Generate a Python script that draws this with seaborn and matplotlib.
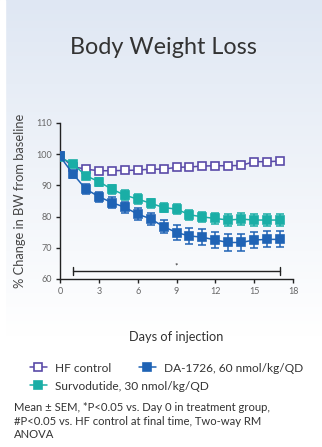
import numpy as np
import pandas as pd
import matplotlib
matplotlib.use("Agg")
import matplotlib.pyplot as plt
import seaborn as sns

days = list(range(0, 18))
hf_control = [99.5, 96.0, 95.2, 94.7, 94.7, 94.8, 94.9, 95.2, 95.2, 95.8, 95.9, 96.2, 96.3, 96.3, 96.4, 97.6, 97.6, 97.8]
hf_sem = [0.8, 0.6, 0.6, 0.6, 0.6, 0.6, 0.6, 0.6, 0.6, 0.7, 0.7, 1.0, 1.0, 0.8, 0.8, 1.0, 1.0, 1.0]
survodutide = [99.0, 96.9, 93.1, 91.2, 88.8, 86.9, 85.6, 84.3, 82.9, 82.4, 80.6, 79.9, 79.4, 78.9, 79.2, 78.9, 78.9, 78.9]
surv_sem = [0.8, 1.0, 1.2, 1.3, 1.4, 1.5, 1.5, 1.5, 1.5, 1.5, 1.6, 1.7, 1.8, 1.8, 1.8, 1.8, 1.8, 1.8]
da1726 = [99.3, 93.7, 88.8, 86.4, 84.5, 83.0, 80.8, 79.3, 76.8, 74.9, 73.8, 73.4, 72.5, 71.7, 71.7, 72.5, 72.7, 72.7]
da_sem = [0.8, 1.3, 1.5, 1.6, 1.7, 1.8, 1.9, 2.0, 2.2, 2.4, 2.5, 2.5, 2.6, 2.7, 2.7, 2.6, 2.6, 2.6]
series_names = ["HF control", "Survodutide, 30 nmol/kg/QD", "DA-1726, 60 nmol/kg/QD"]
sig_start, sig_end, sig_y = 1, 17, 62.5

colors = {"HF control": "#5a4aa8", "Survodutide, 30 nmol/kg/QD": "#1aaea6", "DA-1726, 60 nmol/kg/QD": "#1f63b5"}
vals = {"HF control": (hf_control, hf_sem), "Survodutide, 30 nmol/kg/QD": (survodutide, surv_sem),
        "DA-1726, 60 nmol/kg/QD": (da1726, da_sem)}

rows = []
for name in series_names:
    v, s = vals[name]
    for d, m, e in zip(days, v, s):
        rows.append({"day": d, "value": m, "sem": e, "group": name})
df = pd.DataFrame(rows)

sns.set_style("white")
plt.rcParams['font.family'] = ['Lato', 'DejaVu Sans']

fig = plt.figure(figsize=(3.22, 4.47), dpi=100)
# background gradient
bg = fig.add_axes([0, 0, 1, 1], zorder=-10)
grad = np.linspace(0, 1, 256).reshape(-1, 1)
top = np.array([0.875, 0.906, 0.953])
bot = np.array([1.0, 1.0, 1.0])
t = np.clip(grad / 0.75, 0, 1)
img = top * (1 - t) + bot * t
img = img.reshape(256, 1, 3)
bg.imshow(img, aspect='auto', extent=[0, 1, 0, 1], origin='upper')
bg.axvspan(0, 5/322, color='white')
bg.set_xlim(0, 1); bg.set_ylim(0, 1)
bg.axis('off')

ax = fig.add_axes([60/322, 1 - 279/447, 233/322, 156/447])
ax.patch.set_alpha(0)

for name in series_names:
    sub = df[df.group == name]
    c = colors[name]
    ax.errorbar(sub["day"], sub["value"], yerr=sub["sem"], fmt='none', ecolor=c,
                elinewidth=1.1, capsize=2.8, capthick=1.1, zorder=2)
    sns.lineplot(data=sub, x="day", y="value", ax=ax, color=c, linewidth=1.1,
                 marker='s', markersize=5.4,
                 markerfacecolor='white' if name == "HF control" else c,
                 markeredgecolor=c, markeredgewidth=1.2, label=name, zorder=3)
h, l = ax.get_legend_handles_labels()
handles = dict(zip(l, h))
if ax.get_legend():
    ax.get_legend().remove()

ax.set_xlim(0, 18)
ax.set_ylim(60, 110)
ax.set_xticks(range(0, 19, 3))
ax.set_yticks(range(60, 111, 10))
for s in ["top", "right"]:
    ax.spines[s].set_visible(False)
for s in ["left", "bottom"]:
    ax.spines[s].set_color("#222222")
    ax.spines[s].set_linewidth(1.0)
ax.tick_params(axis='both', direction='out', length=3, width=1, color="#222222",
               labelsize=6.5, labelcolor="#666666", pad=3, bottom=True, left=True)
ax.set_xlabel("")
ax.set_ylabel("% Change in BW from baseline", fontsize=9.3, color="#444444", labelpad=7)

# significance bar
ax.plot([sig_start, sig_end], [sig_y, sig_y], color="#222222", lw=1)
ax.plot([sig_start, sig_start], [sig_y - 1.2, sig_y + 1.2], color="#222222", lw=1)
ax.plot([sig_end, sig_end], [sig_y - 1.2, sig_y + 1.2], color="#222222", lw=1)
ax.text((sig_start + sig_end) / 2, sig_y + 0.5, "*", ha='center', va='bottom', fontsize=6, color="#222222")

leg_kw = dict(frameon=False, fontsize=8.6, handlelength=1.4, handletextpad=0.7,
              borderaxespad=0, borderpad=0, labelcolor="#333333")
leg1 = fig.legend([handles["HF control"], handles["DA-1726, 60 nmol/kg/QD"]],
                  ["HF control", "DA-1726, 60 nmol/kg/QD"], loc='center left',
                  bbox_to_anchor=(30/322, 1 - 368/447), ncol=2, columnspacing=2.3, **leg_kw)
leg2 = fig.legend([handles["Survodutide, 30 nmol/kg/QD"]], ["Survodutide, 30 nmol/kg/QD"],
                  loc='center left', bbox_to_anchor=(30/322, 1 - 386/447), **leg_kw)

fig.text(163/322, 1 - 47/447, "Body Weight Loss", ha='center', va='center', fontsize=16.8, color="#333333")
fig.text(176/322, 1 - 337/447, "Days of injection", ha='center', va='center', fontsize=9.2, color="#333333")
fig.text(14/322, 1 - 402/447,
         "Mean ± SEM, *P<0.05 vs. Day 0 in treatment group,\n#P<0.05 vs. HF control at final time, Two-way RM\nANOVA",
         ha='left', va='top', fontsize=8.1, color="#333333", linespacing=1.3)

fig.savefig("out.png", dpi=100)
